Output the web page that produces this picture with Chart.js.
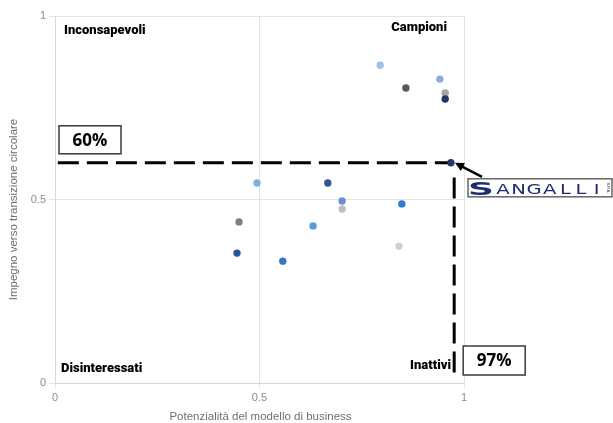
<!DOCTYPE html>
<html><head><meta charset="utf-8">
<script src="https://cdn.jsdelivr.net/npm/chart.js@4.4.0/dist/chart.umd.min.js"></script>
<style>html,body{margin:0;padding:0;background:#fff}#wrap{width:613px;height:423px}</style>
</head><body><div id="wrap"><canvas id="c"></canvas></div>
<script>
// Data
const potenziale = [0.795,0.858,0.941,0.954,0.954,0.968,0.667,0.494,0.702,0.702,0.848,0.631,0.841,0.450,0.445,0.557];
const impegno    = [0.866,0.804,0.828,0.790,0.774,0.600,0.545,0.545,0.496,0.474,0.488,0.428,0.373,0.439,0.354,0.332];
const pointColors = ['#9dc3e6','#595959','#8faadc','#a5a5a5','#1f3864','#1f3864','#2f5597','#7fb2e3','#6a8fd6','#bfbfbf','#2e7dd1','#5b9bd5','#cfcfcf','#7f7f7f','#1f5a94','#3f6fcb'];
const tickValues = [0, 0.5, 1];
const sogliaImpegno = 0.60;      // 60%
const sogliaPotenziale = 0.97;   // 97%
const lineaH_x = [0.007, 0.965];
const lineaV_x = 0.976;
const lineaV_y = [0.56, 0.015];
const quadranti = ['Inconsapevoli','Campioni','Disinteressati','Inattivi'];
const titoloX = 'Potenzialità del modello di business';
const titoloY = 'Impegno verso transizione circolare';
const sangalliIndex = 5;

const points = potenziale.map((x,i)=>({x, y: impegno[i]}));

const overlay = {
  id:'overlay',
  afterDatasetsDraw(chart){
    const {ctx, chartArea:a, scales:{x, y}} = chart;
    ctx.save();
    // axis titles
    ctx.fillStyle = '#6f6f6f';
    ctx.font = '11.5px "Liberation Sans", Arial, sans-serif';
    ctx.textAlign = 'center'; ctx.textBaseline = 'middle';
    ctx.fillText(titoloX, (a.left+a.right)/2 + 1, 417);
    ctx.save();
    ctx.translate(14, (a.top+a.bottom)/2 + 10);
    ctx.rotate(-Math.PI/2);
    ctx.fillText(titoloY, 0, 0);
    ctx.restore();

    // quadrant labels
    ctx.fillStyle = '#000';
    ctx.font = '900 13px Roboto, "Liberation Sans", sans-serif';
    ctx.textAlign = 'left';
    ctx.fillText(quadranti[0], a.left+9, a.top+15);
    ctx.fillText(quadranti[2], a.left+6, a.bottom-14);
    ctx.textAlign = 'right';
    ctx.fillText(quadranti[1], a.right-17, a.top+12);
    ctx.fillText(quadranti[3], a.right-13, a.bottom-17);

    // percentage boxes
    const yT = y.getPixelForValue(sogliaImpegno);
    const xT = x.getPixelForValue(lineaV_x);
    ctx.font = 'bold 17px "Open Sans", Roboto, sans-serif';
    ctx.textAlign = 'center';
    ctx.lineWidth = 1.5; ctx.strokeStyle = '#3a3a3a';
    const b1 = {l:a.left+4, t:yT-37, w:62, h:28};
    ctx.fillStyle = '#fff'; ctx.fillRect(b1.l,b1.t,b1.w,b1.h); ctx.strokeRect(b1.l,b1.t,b1.w,b1.h);
    ctx.fillStyle = '#000'; ctx.fillText(Math.round(sogliaImpegno*100)+'%', b1.l+b1.w/2, b1.t+b1.h/2+1);
    const b2 = {l:xT+9, t:a.bottom-37, w:62, h:29};
    ctx.fillStyle = '#fff'; ctx.fillRect(b2.l,b2.t,b2.w,b2.h); ctx.strokeRect(b2.l,b2.t,b2.w,b2.h);
    ctx.fillStyle = '#000'; ctx.fillText(Math.round(sogliaPotenziale*100)+'%', b2.l+b2.w/2, b2.t+b2.h/2+1);

    // Sangalli logo
    const px = x.getPixelForValue(potenziale[sangalliIndex]);
    const py = y.getPixelForValue(impegno[sangalliIndex]);
    const L = {l:a.right+4, t:py+16, w:144, h:18};
    ctx.fillStyle = '#fff'; ctx.fillRect(L.l,L.t,L.w,L.h);
    ctx.lineWidth = 1.5; ctx.strokeStyle = '#666'; ctx.strokeRect(L.l,L.t,L.w,L.h);
    ctx.fillStyle = '#1d2f6f';
    ctx.textAlign = 'center'; ctx.textBaseline = 'alphabetic';
    ctx.save();
    ctx.translate(L.l+13, L.t+L.h-2);
    ctx.scale(2.0,1);
    ctx.font = 'bold 18px "DejaVu Sans", sans-serif';
    ctx.fillText('S', 0, 0);
    ctx.restore();
    const letters = 'ANGALLI';
    ctx.font = '14px "DejaVu Sans", sans-serif';
    for(let i=0;i<letters.length;i++){
      ctx.save();
      ctx.translate(L.l+35+i*15.6, L.t+L.h-3);
      ctx.scale(1.4,1);
      ctx.fillText(letters[i],0,0);
      ctx.restore();
    }
    ctx.save();
    ctx.translate(L.l+L.w-4, L.t+L.h/2);
    ctx.rotate(Math.PI/2);
    ctx.font = '4px sans-serif'; ctx.textBaseline='middle';
    ctx.fillText('S.P.A.',0,0);
    ctx.restore();

    // arrow
    const hx = px+4, hy = py, tx = L.l+14, ty = L.t-2;
    ctx.strokeStyle = '#000'; ctx.fillStyle = '#000'; ctx.lineWidth = 2.5;
    const ang = Math.atan2(hy-ty, hx-tx);
    ctx.beginPath(); ctx.moveTo(tx,ty); ctx.lineTo(hx-6*Math.cos(ang), hy-6*Math.sin(ang)); ctx.stroke();
    ctx.beginPath();
    ctx.moveTo(hx,hy);
    ctx.lineTo(hx-9*Math.cos(ang)+4.5*Math.sin(ang), hy-9*Math.sin(ang)-4.5*Math.cos(ang));
    ctx.lineTo(hx-9*Math.cos(ang)-4.5*Math.sin(ang), hy-9*Math.sin(ang)+4.5*Math.cos(ang));
    ctx.closePath(); ctx.fill();
    ctx.restore();
  }
};

new Chart(document.getElementById('c'), {
  type:'scatter',
  data:{datasets:[
    {label:'soglia impegno', type:'line', data:lineaH_x.map(v=>({x:v,y:sogliaImpegno})), borderColor:'#000', borderWidth:3, borderDash:[21,8], pointRadius:0, fill:false, order:2},
    {label:'soglia potenziale', type:'line', data:lineaV_y.map(v=>({x:lineaV_x,y:v})), borderColor:'#000', borderWidth:3, borderDash:[21,8], pointRadius:0, fill:false, order:2},
    {label:'aziende', data:points, backgroundColor:pointColors, pointBackgroundColor:pointColors, pointBorderWidth:0, pointRadius:3.7, order:1}
  ]},
  options:{
    responsive:true, maintainAspectRatio:false, animation:false,
    layout:{padding:{left:0,right:149,top:16,bottom:0}},
    plugins:{legend:{display:false}, tooltip:{enabled:false}},
    scales:{
      x:{type:'linear', min:0, max:1,
        afterFit(s){s.height=40;},
        afterBuildTicks(s){s.ticks = tickValues.map(v=>({value:v}));},
        ticks:{color:'#8c8c8c', font:{size:11, family:'"Liberation Sans", Arial, sans-serif'}, padding:3, callback:v=>String(v)},
        grid:{color:'#e3e3e3', tickLength:5, lineWidth:1},
        border:{color:'#d6d6d6'}
      },
      y:{type:'linear', min:0, max:1,
        afterFit(s){s.width=55;},
        afterBuildTicks(s){s.ticks = tickValues.map(v=>({value:v}));},
        ticks:{color:'#8c8c8c', font:{size:11, family:'"Liberation Sans", Arial, sans-serif'}, padding:3, callback:v=>String(v)},
        grid:{color:'#e3e3e3', tickLength:6, lineWidth:1},
        border:{color:'#d6d6d6'}
      }
    }
  },
  plugins:[overlay]
});
</script></body></html>
